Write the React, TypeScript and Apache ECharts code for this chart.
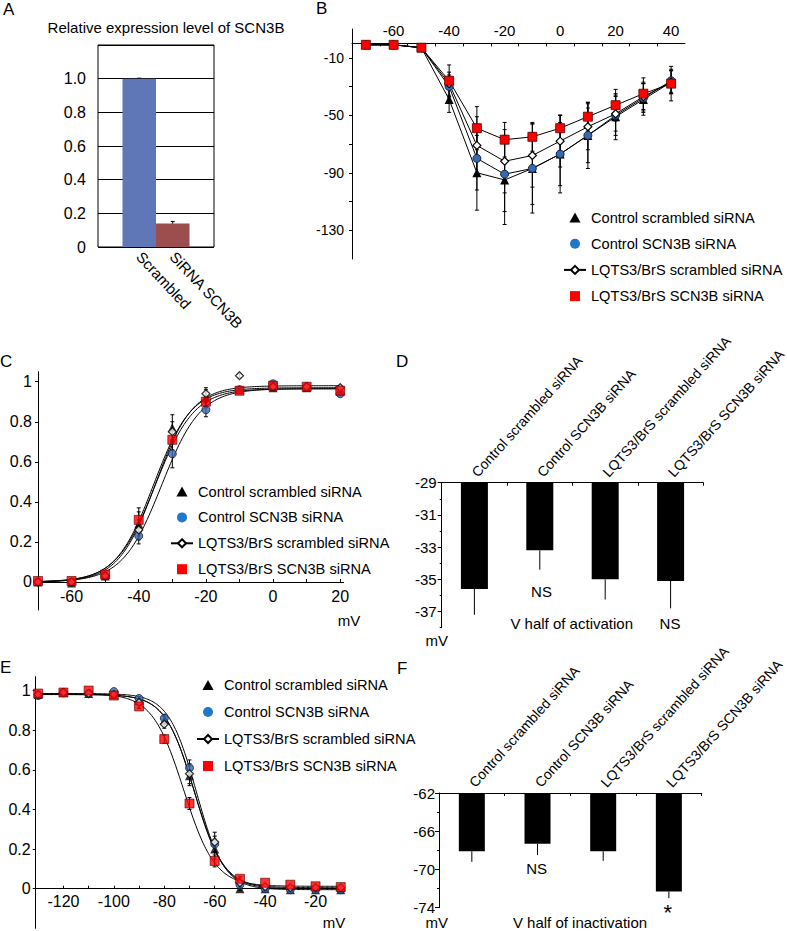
import React, { useEffect, useRef } from 'react';
import * as echarts from 'echarts';

const FONT = '"Liberation Sans", Arial, Helvetica, sans-serif';
const GROUPS = [
  'Control scrambled siRNA',
  'Control SCN3B siRNA',
  'LQTS3/BrS scrambled siRNA',
  'LQTS3/BrS SCN3B siRNA',
];

// ---------- Panel A: relative expression ----------
const aCategories = ['Scrambled', 'SiRNA SCN3B'];
const aValues = [1.0, 0.14];
const aErrors = [0.003, 0.012];
const aColors = ['#5f77b7', '#9c4e4f'];

// ---------- Panel B: I-V ----------
const bVoltages = [-70, -60, -50, -40, -30, -20, -10, 0, 10, 20, 30, 40];
const bCtrlScrambled = [-1, -1, -3, -39, -90, -95, -87, -77, -64, -51, -39, -27];
const bCtrlScn3b = [-1, -1, -3, -30, -80, -91, -87, -77, -64, -50, -38, -26];
const bLqtsScrambled = [-1, -1, -3, -28, -71, -82, -78, -68, -58, -49, -37, -27];
const bLqtsScn3b = [-1, -1, -3, -26, -59, -67, -65, -59, -51, -43, -35, -28];
const bErrCtrlScrambled = [0.5, 0.5, 1, 9, 26, 31, 31, 27, 23, 16, 11, 8];
const bErrCtrlScn3b = [0.5, 0.5, 1, 8, 22, 26, 25, 22, 19, 14, 10, 8];
const bErrLqtsScrambled = [0.5, 0.5, 1, 8, 20, 22, 22, 18, 16, 12, 10, 8];
const bErrLqtsScn3b = [0.5, 0.5, 1, 11, 15, 12, 10, 9, 10, 11, 11, 12];
const bXTicks = [-65, -55, -45, -35, -25, -15, -5, 5, 15, 25, 35];
const bXLabels = [-60, -40, -20, 0, 20, 40];
const bYTicks = [-130, -110, -90, -70, -50, -30, -10];
const bYLabels = [-130, -90, -50, -10];

// ---------- Panel C: activation ----------
const cVoltages = [-70, -60, -50, -40, -30, -20, -10, 0, 10, 20];
const cCtrlScrambled = [0.0, -0.005, 0.03, 0.29, 0.77, 0.92, 0.96, 0.97, 0.97, 0.955];
const cCtrlScn3b = [0.0, 0.0, 0.03, 0.23, 0.64, 0.86, 0.96, 0.99, 0.975, 0.94];
const cLqtsScrambled = [0.0, 0.0, 0.03, 0.26, 0.75, 0.94, 1.03, 0.975, 0.975, 0.97];
const cLqtsScn3b = [0.005, 0.005, 0.037, 0.31, 0.71, 0.9, 0.955, 0.98, 0.975, 0.955];
const cErrCtrlScrambled = [0, 0, 0.01, 0.06, 0.065, 0.04, 0.01, 0.01, 0.01, 0.01];
const cErrCtrlScn3b = [0, 0, 0.01, 0.04, 0.07, 0.035, 0.01, 0.01, 0.01, 0.01];
const cErrLqtsScrambled = [0, 0, 0.01, 0.05, 0.05, 0.03, 0.01, 0.01, 0.01, 0.01];
const cErrLqtsScn3b = [0, 0, 0.01, 0.06, 0.05, 0.03, 0.01, 0.01, 0.01, 0.01];
// Boltzmann fit parameters (V1/2 from panel D)
const cFitVhalf = [-35.6, -33.2, -35.0, -35.1];
const cFitSlope = [5.6, 5.8, 5.5, 5.8];
const cFitMax = [0.97, 0.965, 0.98, 0.965];
const cTicks = [0, 0.2, 0.4, 0.6, 0.8, 1];
const cXLabels = [-60, -40, -20, 0, 20];
const cXTicks = [-60, -50, -40, -30, -20, -10, 0, 10, 20];

// ---------- Panel D: V half of activation ----------
const dValues = [-35.6, -33.2, -35.0, -35.1];
const dErrors = [1.6, 1.2, 1.25, 1.7];
const dYLabels = [-37, -35, -33, -31, -29];
const dYMinor = [-38, -36, -34, -32, -30];

// ---------- Panel E: inactivation ----------
const eVoltages = [-130, -120, -110, -100, -90, -80, -70, -60, -50, -40, -30, -20, -10];
const eCtrlScrambled = [0.98, 0.99, 0.985, 0.98, 0.95, 0.85, 0.57, 0.2, 0.0, 0.0, -0.005, -0.005, -0.005];
const eCtrlScn3b = [0.975, 0.99, 0.985, 0.995, 0.96, 0.86, 0.61, 0.225, 0.02, 0.0, -0.005, -0.005, -0.005];
const eLqtsScrambled = [0.98, 0.99, 0.985, 0.98, 0.94, 0.83, 0.58, 0.235, 0.03, 0.01, 0.005, 0.005, 0.005];
const eLqtsScn3b = [0.985, 0.99, 1.0, 0.975, 0.92, 0.755, 0.43, 0.14, 0.05, 0.03, 0.02, 0.012, 0.008];
const eErrCtrlScrambled = [0, 0, 0, 0, 0.01, 0.02, 0.05, 0.05, 0.01, 0, 0, 0, 0];
const eErrCtrlScn3b = [0, 0, 0, 0, 0.01, 0.02, 0.04, 0.04, 0.01, 0, 0, 0, 0];
const eErrLqtsScrambled = [0, 0, 0, 0, 0.01, 0.02, 0.05, 0.05, 0.01, 0, 0, 0, 0];
const eErrLqtsScn3b = [0, 0, 0, 0, 0.01, 0.02, 0.03, 0.03, 0.01, 0, 0, 0, 0];
// Boltzmann fit parameters (V1/2 from panel F)
const eFitVhalf = [-68.1, -67.3, -68.1, -72.3];
const eFitSlope = [5.8, 5.5, 5.8, 6.2];
const eFitTop = [0.98, 0.985, 0.98, 0.985];
const eFitBottom = [0.0, -0.005, 0.005, 0.012];
const eXLabels = [-120, -100, -80, -60, -40, -20];
const eXTicks = [-120, -110, -100, -90, -80, -70, -60, -50, -40, -30, -20, -10];

// ---------- Panel F: V half of inactivation ----------
const fValues = [-68.1, -67.3, -68.1, -72.3];
const fErrors = [1.1, 1.2, 1.0, 0.7];
const fYLabels = [-74, -70, -66, -62];
const fYMinor = [-72, -68, -64];

// ---------- styling ----------
const SYMBOLS = ['triangle', 'circle', 'diamond', 'rect'];
const SYMBOL_SIZES = [9, 8, 8, 9];
const ITEM_STYLES = [
  { color: '#000000' },
  { color: '#3a68b0', borderColor: '#15233f', borderWidth: 1 },
  { color: '#ffffff', borderColor: '#000000', borderWidth: 1.2 },
  { color: '#ff0000', borderColor: '#5a0000', borderWidth: 0.8 },
];

const zip = (xs: number[], ys: number[]) => xs.map((x, i) => [x, ys[i]]);

function boltzAct(v: number, vh: number, k: number, gmax: number) {
  return gmax / (1 + Math.exp((vh - v) / k));
}
function boltzInact(v: number, vh: number, k: number, top: number, bottom: number) {
  return (top - bottom) / (1 + Math.exp((v - vh) / k)) + bottom;
}
function sampleCurve(from: number, to: number, f: (v: number) => number) {
  const pts: number[][] = [];
  for (let v = from; v <= to + 1e-9; v += 0.5) pts.push([v, f(v)]);
  return pts;
}

function errorBars(name: string, xi: number, yi: number, xs: number[], ys: number[], es: number[], cap: number, downOnly = false) {
  const data = xs.map((x, i) => [x, ys[i], es[i]]);
  return {
    type: 'custom',
    name,
    xAxisIndex: xi,
    yAxisIndex: yi,
    data,
    z: 2,
    silent: true,
    encode: { x: 0, y: 1 },
    renderItem: (_params: any, api: any) => {
      const x = api.value(0);
      const y = api.value(1);
      const e = api.value(2);
      if (!e) return { type: 'group', children: [] };
      const hi = api.coord([x, downOnly ? y : y + e]);
      const lo = api.coord([x, y - e]);
      const st = { stroke: '#000', lineWidth: 1 };
      const children: any[] = [
        { type: 'line', shape: { x1: hi[0], y1: hi[1], x2: lo[0], y2: lo[1] }, style: st },
      ];
      if (cap > 0) {
        if (!downOnly) children.push({ type: 'line', shape: { x1: hi[0] - cap, y1: hi[1], x2: hi[0] + cap, y2: hi[1] }, style: st });
        children.push({ type: 'line', shape: { x1: lo[0] - cap, y1: lo[1], x2: lo[0] + cap, y2: lo[1] }, style: st });
      }
      return { type: 'group', children };
    },
  };
}

const axisLineBlack = { show: true, lineStyle: { color: '#000', width: 1 } };
const labelBase = { color: '#000', fontFamily: FONT };

function legendFor(left: number, top: number, gap: number) {
  return {
    orient: 'vertical',
    left,
    top,
    itemWidth: 22,
    itemHeight: 10,
    itemGap: gap,
    selectedMode: false,
    textStyle: { fontSize: 14.6, color: '#000', fontFamily: FONT },
    data: [
      { name: GROUPS[0], icon: 'path://M5,0L10,9L0,9Z', itemStyle: { color: '#000', borderWidth: 0 } },
      { name: GROUPS[1], icon: 'path://M0,5A5,5,0,1,0,10,5A5,5,0,1,0,0,5Z', itemStyle: { color: '#1f78c8', borderWidth: 0 } },
      { name: GROUPS[2] },
      { name: GROUPS[3], icon: 'path://M0,0H10V10H0Z', itemStyle: { color: '#ff0000', borderWidth: 0 } },
    ],
  };
}

function text(t: string, x: number, y: number, size = 15, align = 'center', extra: any = {}) {
  return {
    type: 'text',
    x,
    y,
    silent: true,
    style: {
      text: t,
      fill: '#000',
      fontSize: size,
      fontFamily: FONT,
      align,
      verticalAlign: 'middle',
      ...extra,
    },
  };
}

// grid geometry -> offsets so the x axis sits on y = 0
const B_GRID = { left: 352, top: 29, width: 333, height: 230 };
const C_GRID = { left: 38, top: 371.7, width: 305.6, height: 238.3 };
const E_GRID = { left: 35.7, top: 676.7, width: 307.6, height: 251.6 };
const B_Y = [-150, 10];
const C_Y = [-0.14, 1.05];
const E_Y = [-0.2, 1.07];

export default function App() {
  const ref = useRef<HTMLDivElement>(null);

  useEffect(() => {
    document.body.style.margin = '0';
    if (!ref.current) return;
    const chart = echarts.init(ref.current, undefined, { renderer: 'svg' });

    const bSeriesVals = [bCtrlScrambled, bCtrlScn3b, bLqtsScrambled, bLqtsScn3b];
    const bErrs = [bErrCtrlScrambled, bErrCtrlScn3b, bErrLqtsScrambled, bErrLqtsScn3b];
    const cSeriesVals = [cCtrlScrambled, cCtrlScn3b, cLqtsScrambled, cLqtsScn3b];
    const cErrs = [cErrCtrlScrambled, cErrCtrlScn3b, cErrLqtsScrambled, cErrLqtsScn3b];
    const eSeriesVals = [eCtrlScrambled, eCtrlScn3b, eLqtsScrambled, eLqtsScn3b];
    const eErrs = [eErrCtrlScrambled, eErrCtrlScn3b, eErrLqtsScrambled, eErrLqtsScn3b];

    // zero-line offsets (pixels from grid edge to y = 0)
    const bZeroOff = (B_Y[1] / (B_Y[1] - B_Y[0])) * B_GRID.height; // from top
    const cZeroOff = (-C_Y[0] / (C_Y[1] - C_Y[0])) * C_GRID.height; // from bottom
    const eZeroOff = (-E_Y[0] / (E_Y[1] - E_Y[0])) * E_GRID.height; // from bottom

    const series: any[] = [];
    // B lines (first, so legends take their style)
    GROUPS.forEach((g, i) => {
      series.push({
        type: 'line',
        name: g,
        xAxisIndex: 2,
        yAxisIndex: 2,
        data: zip(bVoltages, bSeriesVals[i]),
        symbol: SYMBOLS[i],
        symbolSize: SYMBOL_SIZES[i],
        itemStyle: ITEM_STYLES[i],
        lineStyle: { color: '#000', width: 1 },
        z: 3,
      });
    });
    GROUPS.forEach((_g, i) => {
      series.push(errorBars('errB' + i, 2, 2, bVoltages, bSeriesVals[i], bErrs[i], 2));
    });

    // A bars
    series.push({
      type: 'bar',
      name: 'expr',
      xAxisIndex: 1,
      yAxisIndex: 1,
      barCategoryGap: '0%',
      data: aValues.map((v, i) => ({ value: v, itemStyle: { color: aColors[i] } })),
      z: 2,
    });
    series.push(errorBars('errA', 1, 1, [0, 1], aValues, aErrors, 2));

    // C
    GROUPS.forEach((_g, i) => {
      series.push(errorBars('errC' + i, 3, 3, cVoltages, cSeriesVals[i], cErrs[i], 2));
      series.push({
        type: 'line',
        name: 'fitC' + i,
        xAxisIndex: 3,
        yAxisIndex: 3,
        showSymbol: false,
        symbol: 'none',
        data: sampleCurve(-70, 20.5, (v) => boltzAct(v, cFitVhalf[i], cFitSlope[i], cFitMax[i])),
        lineStyle: { color: '#000', width: 1 },
        z: 2,
      });
    });
    GROUPS.forEach((g, i) => {
      series.push({
        type: 'scatter',
        name: g,
        xAxisIndex: 3,
        yAxisIndex: 3,
        data: zip(cVoltages, cSeriesVals[i]),
        symbol: SYMBOLS[i],
        symbolSize: SYMBOL_SIZES[i],
        itemStyle: ITEM_STYLES[i],
        z: 4,
      });
    });

    // D
    series.push({
      type: 'bar',
      name: 'vhalfAct',
      xAxisIndex: 4,
      yAxisIndex: 4,
      barWidth: 27,
      clip: true,
      data: dValues,
      itemStyle: { color: '#000' },
      z: 2,
    });
    series.push(errorBars('errD', 4, 4, [0, 1, 2, 3], dValues, dErrors, 0, true));

    // E
    GROUPS.forEach((_g, i) => {
      series.push(errorBars('errE' + i, 5, 6, eVoltages, eSeriesVals[i], eErrs[i], 2));
      series.push({
        type: 'line',
        name: 'fitE' + i,
        xAxisIndex: 5,
        yAxisIndex: 6,
        showSymbol: false,
        symbol: 'none',
        data: sampleCurve(-130, -10, (v) => boltzInact(v, eFitVhalf[i], eFitSlope[i], eFitTop[i], eFitBottom[i])),
        lineStyle: { color: '#000', width: 1 },
        z: 2,
      });
    });
    GROUPS.forEach((g, i) => {
      series.push({
        type: 'scatter',
        name: g,
        xAxisIndex: 5,
        yAxisIndex: 6,
        data: zip(eVoltages, eSeriesVals[i]),
        symbol: SYMBOLS[i],
        symbolSize: SYMBOL_SIZES[i],
        itemStyle: ITEM_STYLES[i],
        z: 4,
      });
    });

    // F
    series.push({
      type: 'bar',
      name: 'vhalfInact',
      xAxisIndex: 6,
      yAxisIndex: 7,
      barWidth: 26,
      clip: true,
      data: fValues,
      itemStyle: { color: '#000' },
      z: 2,
    });
    series.push(errorBars('errF', 6, 7, [0, 1, 2, 3], fValues, fErrors, 0, true));

    const fmtFrac = (v: number) => (v === 0 ? '0' : v === 1 ? '1' : v.toFixed(1));
    const nb = { outerBoundsMode: 'none' };

    const option: any = {
      animation: false,
      textStyle: { fontFamily: FONT },
      grid: [
        { ...nb, left: 98, top: 45, width: 116, height: 202, show: true, borderColor: '#000', borderWidth: 1 },
        { ...nb, left: 122.5, top: 45, width: 67, height: 202 },
        { ...nb, ...B_GRID },
        { ...nb, ...C_GRID },
        { ...nb, left: 441.7, top: 482.7, width: 261.6, height: 145 },
        { ...nb, ...E_GRID },
        { ...nb, left: 439, top: 793, width: 262.7, height: 114.7 },
      ],
      xAxis: [
        { gridIndex: 0, type: 'value', min: 0, max: 1, show: false },
        {
          gridIndex: 1,
          type: 'category',
          data: aCategories,
          axisLine: { show: false },
          axisTick: { show: false },
          axisLabel: { ...labelBase, fontSize: 15, rotate: -47, margin: 7, interval: 0 },
        },
        {
          gridIndex: 2,
          type: 'value',
          min: -75,
          max: 45,
          position: 'top',
          offset: -bZeroOff,
          axisLine: { ...axisLineBlack, onZero: false },
          axisTick: { show: true, inside: true, length: 3, customValues: bXTicks, lineStyle: { color: '#000' } },
          axisLabel: { ...labelBase, fontSize: 15, margin: 5, customValues: bXLabels },
          splitLine: { show: false },
        },
        {
          gridIndex: 3,
          type: 'value',
          min: -70,
          max: 21,
          offset: -cZeroOff,
          axisLine: { ...axisLineBlack, onZero: false },
          axisTick: { show: true, inside: true, length: 3, customValues: cXTicks, lineStyle: { color: '#000' } },
          axisLabel: { ...labelBase, fontSize: 16, margin: 7, customValues: cXLabels },
          splitLine: { show: false },
        },
        {
          gridIndex: 4,
          type: 'category',
          data: GROUPS,
          position: 'top',
          axisLine: axisLineBlack,
          axisTick: { show: true, inside: true, length: 3, lineStyle: { color: '#000' } },
          axisLabel: { ...labelBase, fontSize: 14, rotate: -48, margin: 8, interval: 0 },
        },
        {
          gridIndex: 5,
          type: 'value',
          min: -131,
          max: -9,
          offset: -eZeroOff,
          axisLine: { ...axisLineBlack, onZero: false },
          axisTick: { show: true, inside: true, length: 3, customValues: eXTicks, lineStyle: { color: '#000' } },
          axisLabel: { ...labelBase, fontSize: 16, margin: 5, customValues: eXLabels },
          splitLine: { show: false },
        },
        {
          gridIndex: 6,
          type: 'category',
          data: GROUPS,
          position: 'top',
          axisLine: axisLineBlack,
          axisTick: { show: true, inside: true, length: 3, lineStyle: { color: '#000' } },
          axisLabel: { ...labelBase, fontSize: 14, rotate: -48, margin: 8, interval: 0 },
        },
      ],
      yAxis: [
        {
          gridIndex: 0,
          type: 'value',
          min: 0,
          max: 1.2,
          interval: 0.2,
          axisLine: { show: false },
          axisTick: { show: false },
          axisLabel: {
            ...labelBase,
            fontSize: 16,
            margin: 12,
            formatter: (v: number) => (v > 1.1 ? '' : v === 0 ? '0' : v.toFixed(1)),
          },
          splitLine: { show: true, lineStyle: { color: '#000', width: 1 } },
        },
        { gridIndex: 1, type: 'value', min: 0, max: 1.2, show: false },
        {
          gridIndex: 2,
          type: 'value',
          min: B_Y[0],
          max: B_Y[1],
          axisLine: { ...axisLineBlack, onZero: false },
          axisTick: { show: true, length: 3, customValues: bYTicks, lineStyle: { color: '#000' } },
          axisLabel: { ...labelBase, fontSize: 14, margin: 8, customValues: bYLabels },
          splitLine: { show: false },
        },
        {
          gridIndex: 3,
          type: 'value',
          min: C_Y[0],
          max: C_Y[1],
          axisLine: { ...axisLineBlack, onZero: false },
          axisTick: { show: true, length: 3, customValues: cTicks, lineStyle: { color: '#000' } },
          axisLabel: { ...labelBase, fontSize: 16, margin: 6, customValues: cTicks, formatter: fmtFrac },
          splitLine: { show: false },
        },
        {
          gridIndex: 4,
          type: 'value',
          min: -38,
          max: -29,
          axisLine: { ...axisLineBlack, onZero: false },
          axisTick: { show: true, length: 4, customValues: dYLabels, lineStyle: { color: '#000' } },
          axisLabel: { ...labelBase, fontSize: 15, margin: 5, customValues: dYLabels },
          splitLine: { show: false },
        },
        {
          gridIndex: 4,
          type: 'value',
          min: -38,
          max: -29,
          position: 'left',
          axisLine: { show: false, onZero: false },
          axisTick: { show: true, length: 2, customValues: dYMinor, lineStyle: { color: '#000' } },
          axisLabel: { show: false },
          splitLine: { show: false },
        },
        {
          gridIndex: 5,
          type: 'value',
          min: E_Y[0],
          max: E_Y[1],
          axisLine: { ...axisLineBlack, onZero: false },
          axisTick: { show: true, length: 3, customValues: cTicks, lineStyle: { color: '#000' } },
          axisLabel: { ...labelBase, fontSize: 16, margin: 5, customValues: cTicks, formatter: fmtFrac },
          splitLine: { show: false },
        },
        {
          gridIndex: 6,
          type: 'value',
          min: -74,
          max: -62,
          axisLine: { ...axisLineBlack, onZero: false },
          axisTick: { show: true, length: 4, customValues: fYLabels, lineStyle: { color: '#000' } },
          axisLabel: { ...labelBase, fontSize: 15, margin: 4, customValues: fYLabels },
          splitLine: { show: false },
        },
        {
          gridIndex: 6,
          type: 'value',
          min: -74,
          max: -62,
          position: 'left',
          axisLine: { show: false, onZero: false },
          axisTick: { show: true, length: 2, customValues: fYMinor, lineStyle: { color: '#000' } },
          axisLabel: { show: false },
          splitLine: { show: false },
        },
      ],
      legend: [legendFor(558, 205, 11.2), legendFor(165, 479, 10.9), legendFor(191, 672.5, 12)],
      graphic: [
        text('A', 3, 9, 17, 'left'),
        text('Relative expression level of SCN3B', 166, 27, 15),
        text('B', 316, 8, 17, 'left'),
        text('C', 0, 361, 17, 'left'),
        text('mV', 349, 620, 15),
        text('D', 396, 361, 17, 'left'),
        text('NS', 541.5, 591.5, 15),
        text('NS', 670, 623.3, 15),
        text('V half of activation', 571.7, 623.3, 15),
        text('mV', 436.7, 640.7, 15),
        text('E', 0, 667, 17, 'left'),
        text('mV', 334, 922, 15),
        text('F', 397, 668, 17, 'left'),
        text('NS', 536.7, 868.3, 15),
        text('*', 667.7, 912, 22),
        text('V half of inactivation', 580, 922, 15),
        text('mV', 436.7, 922, 15),
      ],
      series,
    };

    chart.setOption(option);
    return () => chart.dispose();
  }, []);

  return <div ref={ref} style={{ width: 787, height: 931 }} />;
}
